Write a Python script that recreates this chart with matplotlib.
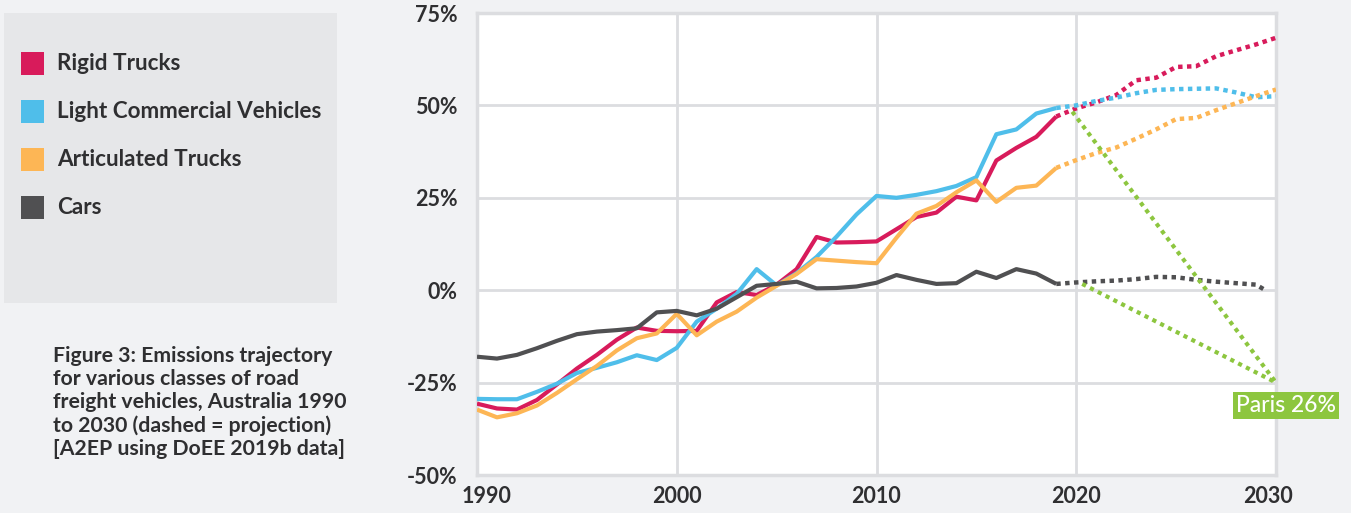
import matplotlib
matplotlib.use("Agg")
import matplotlib.pyplot as plt
from matplotlib.patches import Rectangle
from matplotlib.transforms import ScaledTranslation

plt.rcParams['font.family'] = ['Lato', 'DejaVu Sans']

# historical series (% change vs 2005), 1990-2019
years_hist = list(range(1990, 2020))
rigid_hist = [-30.7, -32.0, -32.3, -29.7, -25.5, -21.2, -17.5, -13.4, -10.1, -11.0,
              -11.1, -11.0, -3.3, -0.5, -1.3, 1.5, 5.7, 14.4, 12.9, 13.0,
              13.2, 16.5, 19.8, 21.0, 25.3, 24.3, 35.1, 38.5, 41.5, 47.0]
lcv_hist = [-29.4, -29.5, -29.5, -27.5, -25.3, -22.4, -21.0, -19.5, -17.6, -18.9,
            -15.6, -8.5, -5.0, -1.0, 5.7, 1.3, 4.6, 9.0, 14.5, 20.5,
            25.5, 25.0, 25.8, 26.8, 28.2, 30.6, 42.2, 43.5, 47.8, 49.3]
artic_hist = [-32.3, -34.4, -33.3, -31.2, -27.8, -24.1, -20.5, -16.3, -13.0, -11.7,
              -6.4, -12.2, -8.5, -5.8, -2.0, 1.2, 4.4, 8.4, 8.0, 7.6,
              7.3, 14.2, 20.7, 22.8, 26.5, 29.7, 23.9, 27.7, 28.3, 33.1]
cars_hist = [-18.0, -18.5, -17.5, -15.7, -13.7, -11.9, -11.2, -10.8, -10.3, -6.0,
             -5.6, -6.8, -5.0, -1.9, 1.2, 1.7, 2.3, 0.5, 0.6, 1.0,
             2.0, 4.1, 2.8, 1.7, 1.9, 5.0, 3.3, 5.7, 4.5, 1.7]

# projections, 2019-2030
years_proj = list(range(2019, 2031))
rigid_proj = [47.0, 49.2, 50.8, 52.8, 56.8, 57.5, 60.4, 60.6, 63.3, 64.9, 66.5, 68.3]
lcv_proj = [49.3, 50.0, 51.2, 52.1, 53.3, 54.2, 54.4, 54.5, 54.6, 53.5, 52.2, 52.5]
artic_proj = [33.1, 35.2, 37.1, 38.6, 41.0, 43.5, 46.3, 46.6, 48.7, 50.6, 52.5, 54.3]
cars_proj_years = list(range(2019, 2030)) + [2029.5]
cars_proj = [1.7, 2.1, 2.4, 2.6, 3.0, 3.6, 3.5, 2.8, 2.3, 1.9, 1.5, -0.1]

# Paris target lines
paris_upper_x = [2019.8, 2030]
paris_upper_y = [48.3, -25.0]
paris_lower_x = [2020.3, 2030]
paris_lower_y = [1.7, -25.0]

names = ['Rigid Trucks', 'Light Commercial Vehicles', 'Articulated Trucks', 'Cars']
colors = ['#d81b5b', '#4fbeea', '#fdb655', '#505052']
green = '#8dc63f'
grid_c = '#dcdde0'
text_c = '#2f2f31'

W, H = 1351, 513
fig = plt.figure(figsize=(W / 100, H / 100), dpi=100)
fig.patch.set_facecolor('#f1f2f4')
ax = fig.add_axes([477 / W, 1 - 475 / H, (1276 - 477) / W, (475 - 13) / H])
ax.set_facecolor('white')

series = [(years_hist, rigid_hist, years_proj, rigid_proj),
          (years_hist, lcv_hist, years_proj, lcv_proj),
          (years_hist, artic_hist, years_proj, artic_proj),
          (years_hist, cars_hist, cars_proj_years, cars_proj)]

for (xh, yh, xp, yp), c in zip(series, colors):
    ax.plot(xh, yh, color=c, lw=3, solid_capstyle='butt', zorder=3)
    ax.plot(xp, yp, color=c, lw=3.2, linestyle=(0, (1, 1)), dash_capstyle='butt', zorder=3)

ax.plot(paris_upper_x, paris_upper_y, color=green, lw=3, linestyle=(0, (1, 1.1)), zorder=4)
ax.plot(paris_lower_x, paris_lower_y, color=green, lw=3, linestyle=(0, (1, 1.1)), zorder=4)

ax.text(2030.5, -31.2, 'Paris 26%', color='white', fontsize=16.5, fontweight='medium',
        ha='center', va='center', zorder=5, clip_on=False,
        bbox=dict(boxstyle='square,pad=0.12', facecolor=green, edgecolor='none'))

ax.set_xlim(1990, 2030)
ax.set_ylim(-50, 75)
ax.set_xticks([1990, 2000, 2010, 2020, 2030])
ax.set_yticks([-50, -25, 0, 25, 50, 75])
ax.set_yticklabels([f'{v}%' for v in [-50, -25, 0, 25, 50, 75]])
ax.grid(True, color=grid_c, lw=2, zorder=0)
ax.set_axisbelow(True)
for s in ax.spines.values():
    s.set_color(grid_c)
    s.set_linewidth(2.5)
ax.tick_params(axis='both', length=0, labelsize=15.5, colors=text_c)
ax.tick_params(axis='y', pad=14)
ax.tick_params(axis='x', pad=8)
for lab in ax.get_yticklabels():
    lab.set_horizontalalignment('right')
    lab.set_fontweight('bold')
xlabs = ax.get_xticklabels()
for lab in xlabs:
    lab.set_fontweight('bold')
xlabs[0].set_transform(xlabs[0].get_transform() + ScaledTranslation(10 / 100, 0, fig.dpi_scale_trans))
xlabs[-1].set_transform(xlabs[-1].get_transform() + ScaledTranslation(-8 / 100, 0, fig.dpi_scale_trans))

# legend panel
fig.patches.append(Rectangle((4 / W, 1 - 303 / H), 333 / W, 290 / H, transform=fig.transFigure,
                             facecolor='#e6e7e9', edgecolor='none', zorder=0))
for i, (n, c) in enumerate(zip(names, colors)):
    yc = 63.5 + i * 48
    fig.patches.append(Rectangle((21 / W, 1 - (yc + 11.5) / H), 23 / W, 23 / H,
                                 transform=fig.transFigure, facecolor=c, edgecolor='none'))
    fig.text(57 / W, 1 - yc / H, n, fontsize=16.2, fontweight='bold', color=text_c,
             va='center', ha='left')

caption = ('Figure 3: Emissions trajectory\nfor various classes of road\n'
           'freight vehicles, Australia 1990\nto 2030 (dashed = projection)\n'
           '[A2EP using DoEE 2019b data]')
fig.text(53 / W, 1 - 346 / H, caption, fontsize=15.3, fontweight='bold', color=text_c,
         va='top', ha='left', linespacing=1.2)

fig.savefig('out.png', dpi=100, facecolor=fig.get_facecolor())
